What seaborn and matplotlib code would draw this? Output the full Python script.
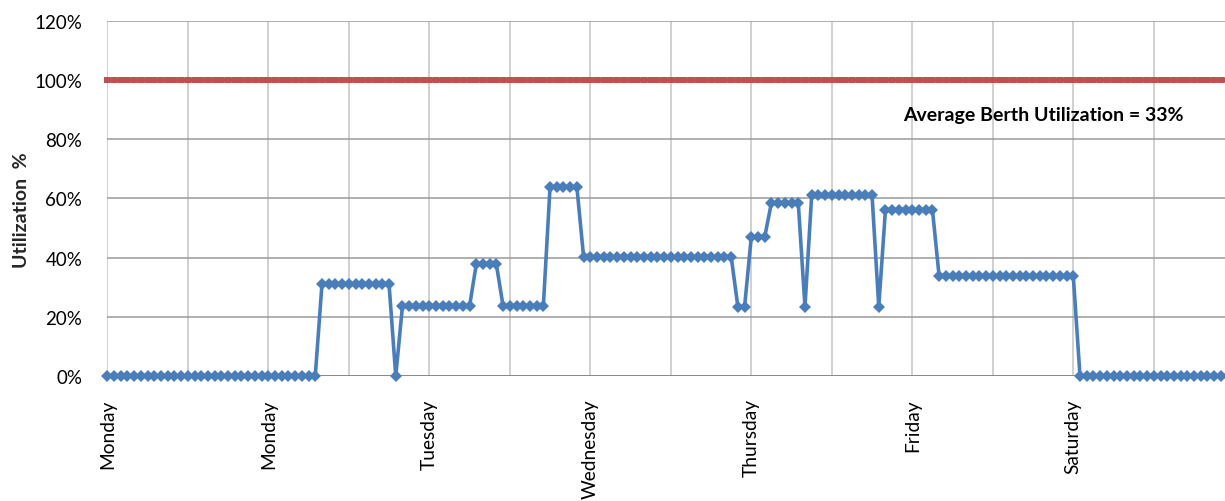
import matplotlib
matplotlib.use("Agg")
import matplotlib.pyplot as plt
import matplotlib.ticker as mticker
import numpy as np
import pandas as pd
import seaborn as sns

# Hourly berth utilization (%) over one week, hour 0 = Monday 00:00
utilization = [
    # hours 0-23
    0, 0, 0, 0, 0, 0, 0, 0, 0, 0, 0, 0, 0, 0, 0, 0, 0, 0, 0, 0, 0, 0, 0, 0,
    # hours 24-47
    0, 0, 0, 0, 0, 0, 0, 0, 31, 31, 31, 31, 31, 31, 31, 31, 31, 31, 31, 0,
    23.6, 23.6, 23.6, 23.6,
    # hours 48-71
    23.6, 23.6, 23.6, 23.6, 23.6, 23.6, 23.6, 37.7, 37.7, 37.7, 37.7, 23.6,
    23.6, 23.6, 23.6, 23.6, 23.6, 23.6, 63.8, 63.8, 63.8, 63.8, 63.8, 40.3,
    # hours 72-95
    40.3, 40.3, 40.3, 40.3, 40.3, 40.3, 40.3, 40.3, 40.3, 40.3, 40.3, 40.3,
    40.3, 40.3, 40.3, 40.3, 40.3, 40.3, 40.3, 40.3, 40.3, 40.3, 23.4, 23.4,
    # hours 96-119
    47.0, 47.0, 47.0, 58.5, 58.5, 58.5, 58.5, 58.5, 23.4, 61.0, 61.0, 61.0,
    61.0, 61.0, 61.0, 61.0, 61.0, 61.0, 61.0, 23.4, 56.2, 56.2, 56.2, 56.2,
    # hours 120-143
    56.2, 56.2, 56.2, 56.2, 33.7, 33.7, 33.7, 33.7, 33.7, 33.7, 33.7, 33.7,
    33.7, 33.7, 33.7, 33.7, 33.7, 33.7, 33.7, 33.7, 33.7, 33.7, 33.7, 33.7,
    # hours 144-167
    33.7, 0, 0, 0, 0, 0, 0, 0, 0, 0, 0, 0, 0, 0, 0, 0, 0, 0, 0, 0, 0, 0, 0, 0,
]
capacity = [100] * len(utilization)
hours = list(range(len(utilization)))

day_ticks = [0, 24, 48, 72, 96, 120, 144]
day_labels = ["Monday", "Monday", "Tuesday", "Wednesday", "Thursday", "Friday", "Saturday"]
y_ticks = [0, 20, 40, 60, 80, 100, 120]
avg_label = "Average Berth Utilization = 33%"

df = pd.DataFrame({"hour": hours, "utilization": utilization, "capacity": capacity})

sns.set_style("white")
plt.rcParams["font.family"] = ["Lato", "DejaVu Sans"]

W, H = 1225, 502
fig = plt.figure(figsize=(W / 100, H / 100), dpi=100)
left_px, right_px = 107.3, 1234.3
top_px, bottom_px = 21.7, 377.0
ax = fig.add_axes([left_px / W, 1 - bottom_px / H,
                   (right_px - left_px) / W, (bottom_px - top_px) / H])

sns.lineplot(data=df, x="hour", y="capacity", ax=ax, color="#C0504D",
             linewidth=4.0, marker="s", markersize=4.4, markeredgewidth=0,
             clip_on=False, zorder=3)
sns.lineplot(data=df, x="hour", y="utilization", ax=ax, color="#4A7EBB",
             linewidth=2.6, marker="D", markersize=6.0, markeredgewidth=0,
             clip_on=False, zorder=4)

ax.set_xlim(0, 168)
ax.set_ylim(0, 120)

# gridlines: every 12 hours vertically, every 20% horizontally
for gx in range(0, 169, 12):
    ax.axvline(gx, color="#C4C4C4", linewidth=1.1, zorder=1)
for gy in y_ticks:
    ax.axhline(gy, color="#9A9A9A", linewidth=1.1, zorder=1)
ax.axhline(0, color="#868686", linewidth=1.3, zorder=2)

for s in ax.spines.values():
    s.set_visible(False)

ax.set_yticks(y_ticks)
ax.yaxis.set_major_formatter(mticker.FuncFormatter(lambda v, p: f"{int(v)}%"))
ax.set_xticks(day_ticks)
ax.set_xticklabels(day_labels, rotation=90, ha="center", va="top")
ax.tick_params(axis="y", length=0, pad=18, labelsize=13.5, labelcolor="#000000")
ax.tick_params(axis="x", length=0, pad=16, labelsize=13.8, labelcolor="#000000")

ax.set_xlabel("")
ax.set_ylabel("")
fig.text(22 / W, 1 - 210 / H, "Utilization  %", rotation=90, ha="center",
         va="center", fontsize=14, fontweight="bold")

ax.text(118.6, 88.4, avg_label, ha="left", va="center",
        fontsize=14, fontweight="bold", color="#000000")

fig.savefig("out.png", dpi=100)
